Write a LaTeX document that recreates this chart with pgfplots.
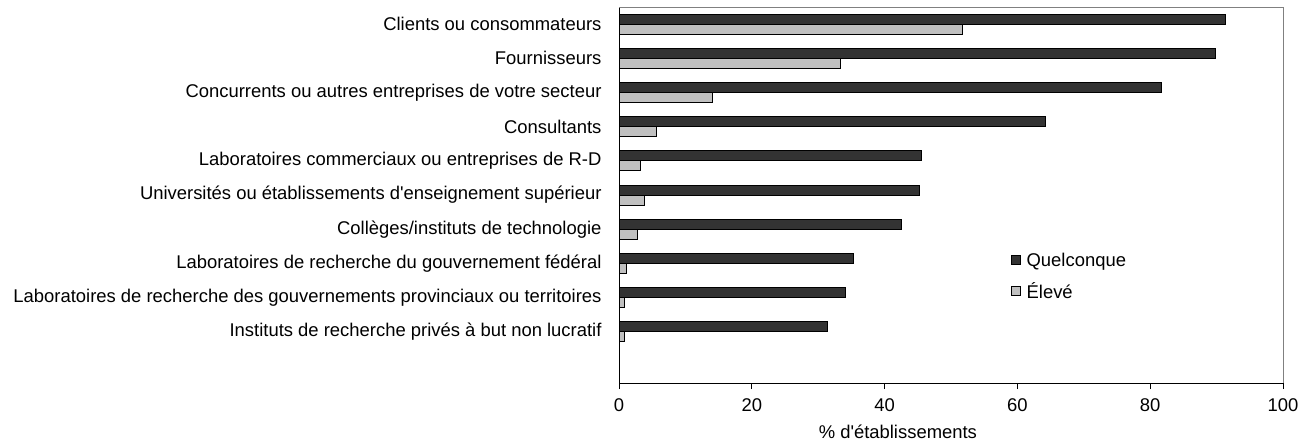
\documentclass[border=0pt]{standalone}
\usepackage{pgfplots}
\pgfplotsset{compat=1.18}
\usepackage{fontspec}
\setmainfont{Liberation Sans}
\definecolor{darkbar}{HTML}{333333}
\definecolor{lightbar}{HTML}{C0C0C0}
\begin{document}
\begin{tikzpicture}
\path (0,0) rectangle (1305bp,-442bp);
\begin{axis}[
  at={(619bp,-7bp)}, anchor=north west,
  scale only axis,
  width=664bp, height=376bp,
  xbar=0pt, bar width=10bp,
  y dir=reverse,
  xmin=0, xmax=100,
  ymin=-0.5, ymax=10.5,
  xtick={0,20,...,100},
  ytick={0,...,9},
  yticklabels={Clients ou consommateurs,Fournisseurs,Concurrents ou autres entreprises de votre secteur,Consultants,Laboratoires commerciaux ou entreprises de R-D,Universités ou établissements d\textquotesingle enseignement supérieur,Collèges/instituts de technologie,Laboratoires de recherche du gouvernement fédéral,Laboratoires de recherche des gouvernements provinciaux ou territoires,Instituts de recherche privés à but non lucratif},
  axis x line*=bottom, axis y line*=left,
  axis line style={black, line width=1bp, -},
  xtick align=outside,
  major tick length=6bp,
  xtick style={black, line width=1bp},
  ytick style={draw=none},
  x tick label style={font=\fontsize{18.5}{20}\selectfont, yshift=-6bp},
  y tick label style={font=\fontsize{18.5}{20}\selectfont, anchor=east, xshift=-8bp},
  /pgf/number format/assume math mode=true,
  xlabel={\% d\textquotesingle établissements},
  xlabel style={font=\fontsize{18.5}{20}\selectfont, at={(axis description cs:0.42,0)}, anchor=north, yshift=-42bp, inner sep=0pt},
  legend style={draw=none, fill=none, font=\fontsize{18.5}{20}\selectfont, at={(axis description cs:0.585,0.36)}, anchor=north west, xshift=3bp, yshift=-3bp, row sep=11bp, inner sep=0pt, nodes={inner sep=2bp}},
  legend cell align=left,
  legend image code/.code={\draw[#1, line width=1bp] (0bp,-4.5bp) rectangle (9bp,4.5bp);},
  clip=false,
]
\addplot[fill=darkbar, draw=black, line width=1bp, bar shift=5bp] coordinates {
(91.3,0) (89.8,1) (81.7,2) (64.2,3) (45.5,4) (45.2,5) (42.6,6) (35.3,7) (34.1,8) (31.4,9)};
\addlegendentry{\hspace{4bp}Quelconque}
\addplot[fill=lightbar, draw=black, line width=1bp, bar shift=-5bp] coordinates {
(51.8,0) (33.4,1) (14.1,2) (5.7,3) (3.3,4) (3.8,5) (2.8,6) (1.2,7) (0.9,8) (0.9,9)};
\addlegendentry{\hspace{4bp}Élevé}
\draw[gray, line width=1bp] (rel axis cs:0,1) -- (rel axis cs:1,1) -- (rel axis cs:1,0);
\end{axis}
\end{tikzpicture}
\end{document}
